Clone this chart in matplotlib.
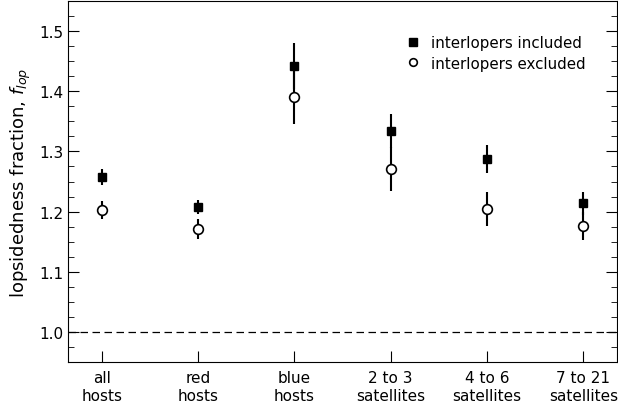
import numpy as np
import matplotlib
matplotlib.use('Agg')
import matplotlib.pyplot as plt
from matplotlib.ticker import MultipleLocator
from matplotlib.lines import Line2D

# 数据
labels = ['all\nhosts', 'red\nhosts', 'blue\nhosts', '2 to 3\nsatellites', '4 to 6\nsatellites', '7 to 21\nsatellites']
f_incl = [1.257, 1.208, 1.442, 1.334, 1.287, 1.214]
err_incl = [0.013, 0.012, 0.038, 0.028, 0.023, 0.019]
f_excl = [1.203, 1.171, 1.390, 1.271, 1.204, 1.176]
err_excl = [0.015, 0.016, 0.044, 0.037, 0.028, 0.023]

x = np.arange(len(labels))

fig = plt.figure(figsize=(6.18, 4.06), dpi=100)
ax = fig.add_axes([68 / 618, 1 - 363 / 406, (617 - 68) / 618, (363 - 2) / 406])

ax.axhline(1.0, color='black', linestyle=(0, (6, 3.6)), linewidth=0.9)

ax.errorbar(x, f_incl, yerr=err_incl, fmt='s', color='black', mfc='black',
            ms=6, elinewidth=1.5, capsize=0)
ax.errorbar(x, f_excl, yerr=err_excl, fmt='o', color='black', mfc='white',
            mec='black', mew=1.2, ms=7, elinewidth=1.5, capsize=0)

ax.set_xlim(-0.35, 5.35)
ax.set_ylim(0.95, 1.55)
ax.set_xticks(x)
ax.set_xticklabels(labels, fontsize=11)
ax.yaxis.set_major_locator(MultipleLocator(0.1))
ax.yaxis.set_minor_locator(MultipleLocator(0.025))
ax.tick_params(axis='y', which='both', direction='in', right=True, labelsize=11)
ax.tick_params(axis='y', which='major', length=8)
ax.tick_params(axis='y', which='minor', length=4)
ax.tick_params(axis='x', direction='in', length=8, labelsize=11, pad=6)
ax.set_ylabel('lopsidedness fraction, $f_{lop}$', fontsize=13)

# 图例（只显示标记，不带误差棒）
handles = [
    Line2D([], [], linestyle='none', marker='s', color='black', ms=6),
    Line2D([], [], linestyle='none', marker='o', mfc='white', mec='black', mew=1.2, ms=5.5),
]
ax.legend(handles, ['interlopers included', 'interlopers excluded'],
          loc='upper right', frameon=False, fontsize=10.8, handletextpad=0.4,
          handlelength=1.5, labelspacing=0.35, borderaxespad=1.5,
          bbox_to_anchor=(0.994, 0.984))

fig.savefig('out.png', dpi=100)
